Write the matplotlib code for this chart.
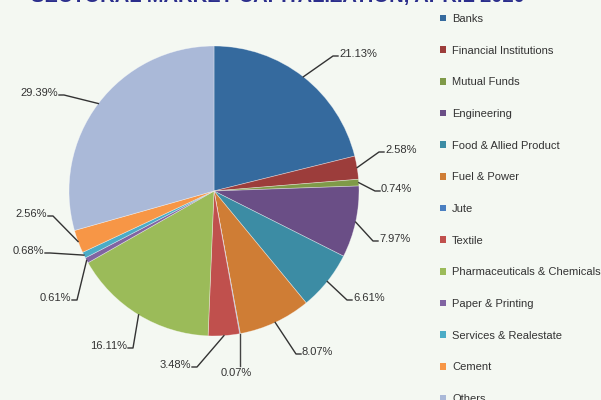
import numpy as np
import matplotlib.pyplot as plt
from matplotlib.patches import Patch

plt.rcParams['font.family'] = ['Liberation Sans', 'DejaVu Sans']

sectors = ['Banks', 'Financial Institutions', 'Mutual Funds', 'Engineering',
           'Food & Allied Product', 'Fuel & Power', 'Jute', 'Textile',
           'Pharmaceuticals & Chemicals', 'Paper & Printing',
           'Services & Realestate', 'Cement', 'Others']
shares = [21.13, 2.58, 0.74, 7.97, 6.61, 8.07, 0.07, 3.48, 16.11, 0.61, 0.68, 2.56, 29.39]
colors = ['#356a9e', '#9c3d3b', '#7f9a48', '#6a4e86', '#3c8ca4', '#cf7d35',
          '#4a7fc1', '#c0504d', '#9bbb59', '#8064a2', '#4bacc6', '#f79646', '#aab9d8']

# label text positions in pixels (x, y from top) and alignment
label_pos = [(339, 54, 'left'), (385, 150, 'left'), (381, 189, 'left'),
             (379, 239, 'left'), (353, 298, 'left'), (302, 352, 'left'),
             (236, 373, 'center'), (191, 365, 'right'), (127, 346, 'right'),
             (71, 298, 'right'), (44, 251, 'right'), (47, 214, 'right'),
             (58, 93, 'right')]

W, H = 601, 400
bg = '#f4f8f2'
fig = plt.figure(figsize=(6.01, 4.0), dpi=100, facecolor=bg)
ax = fig.add_axes([0, 0, 1, 1])
ax.set_facecolor(bg)

cx, cy, r = 214, H - 191, 145
wedges, _ = ax.pie(shares, colors=colors, startangle=90, counterclock=False,
                   center=(cx, cy), radius=r,
                   wedgeprops=dict(edgecolor=(1, 1, 1, 0.45), linewidth=0.5))
ax.set_xlim(0, W)
ax.set_ylim(0, H)
ax.set_aspect('equal')
ax.axis('off')

for w, val, (tx, ty, ha) in zip(wedges, shares, label_pos):
    ang = np.deg2rad((w.theta1 + w.theta2) / 2)
    ax_, ay_ = cx + r * np.cos(ang), cy + r * np.sin(ang)
    ty_d = H - ty
    if ha == 'center':
        ax.plot([ax_, ax_], [ay_, ty_d + 7], color='#444444', lw=1)
        ax.text(tx, ty_d, f'{val:.2f}%', ha='center', va='center',
                fontsize=8, color='#333333')
        continue
    s = 1 if ha == 'left' else -1
    ex = tx - s * 6
    ax.plot([ax_, ex, tx - s * 1], [ay_, ty_d - 2, ty_d - 2],
            color='#333333', lw=1)
    ax.text(tx, ty_d, f'{val:.2f}%', ha=ha, va='center',
            fontsize=8, color='#333333')

handles = [Patch(facecolor=c, edgecolor='none') for c in colors]
fig.legend(handles, sectors, loc='upper left', bbox_to_anchor=(440 / W, 1 - 14 / H),
           frameon=False, fontsize=8, handlelength=0.55, handleheight=0.55,
           handletextpad=0.55, labelspacing=1.95, borderpad=0, borderaxespad=0,
           labelcolor='#333333')

fig.text(278 / W, 1 - 2 / H, 'SECTORAL MARKET CAPITALIZATION, APRIL 2020',
         ha='center', va='baseline', fontsize=14.5, fontweight='bold',
         color='#2b2e8c')

fig.savefig('out.png', dpi=100, facecolor=bg)
